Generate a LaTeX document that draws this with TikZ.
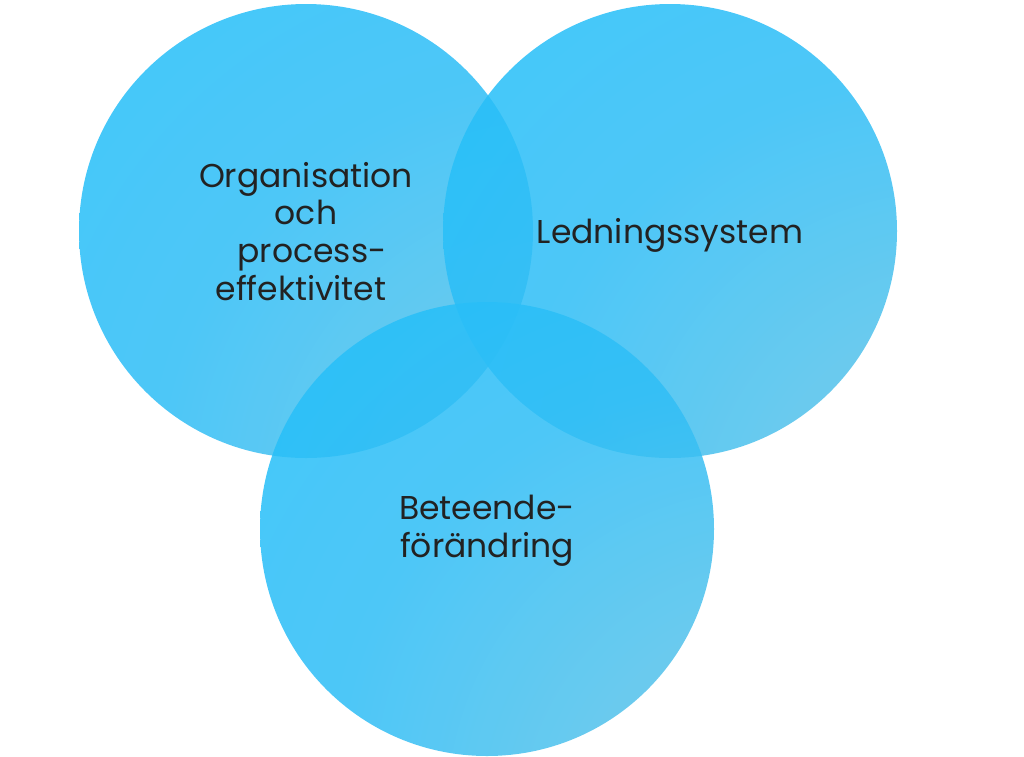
\documentclass[tikz,border=0pt]{standalone}
\usepackage{fontspec}
\setmainfont{Poppins}
\definecolor{lightend}{RGB}{110,196,226}
\definecolor{midend}{RGB}{48,190,246}
\definecolor{cyanend}{RGB}{24,192,253}
\definecolor{txt}{RGB}{34,34,34}
\pgfdeclareradialshading{venngrad}{\pgfpoint{42bp}{-42bp}}{%
  color(0bp)=(lightend); color(8bp)=(lightend); color(45bp)=(midend); color(85bp)=(cyanend); color(140bp)=(cyanend)}
\begin{document}
\begin{tikzpicture}[x=1pt,y=-1pt,
  venn/.style={circle, minimum size=454pt, inner sep=0pt, shading=venngrad, fill opacity=0.86, draw=none},
  lbl/.style={anchor=base, inner sep=0pt, text=txt, font=\fontsize{33}{40}\selectfont}]
\useasboundingbox (0,0) rectangle (1024,756);
\node[venn] (c1) at (306,231) {};
\node[venn] (c2) at (670,231) {};
\node[venn] (c3) at (487,529) {};
\node[lbl] (o1) at (306,187) {Organisation};
\node[lbl] (o2) at (306,224) {och};
\node[lbl] (o3) at (312,262) {process-};
\node[lbl] (o4) at (301,300) {effektivitet};
\node[lbl] (l1) at (670,243) {Ledningssystem};
\node[lbl] (b1) at (487,519) {Beteende-};
\node[lbl] (b2) at (487,557) {förändring};
\end{tikzpicture}
\end{document}
